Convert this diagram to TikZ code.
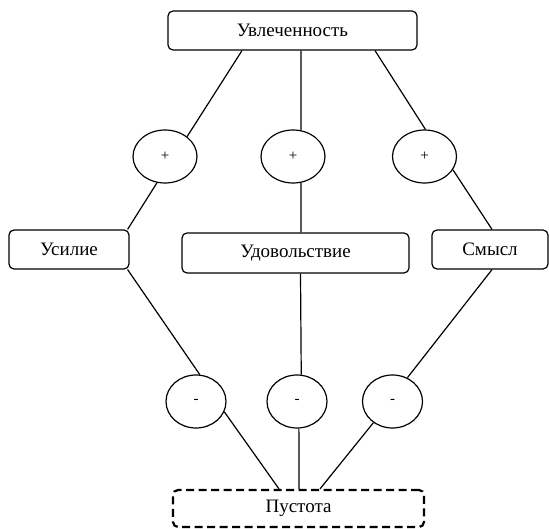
\documentclass[tikz,border=0pt]{standalone}
\usepackage{fontspec}
\setmainfont{Liberation Serif}
\usetikzlibrary{shapes.geometric}
\begin{document}
\begin{tikzpicture}[x=1pt, y=-1pt, line width=1.2pt, font=\fontsize{19}{21}\selectfont,
        box/.style={draw, rounded corners=5pt, minimum height=39pt, inner sep=0pt},
        sign/.style={draw, ellipse, minimum width=64pt, minimum height=53pt, inner sep=0pt, font=\fontsize{15}{17}\selectfont},
        dashbox/.style={box, line width=2.2pt, dash pattern=on 8pt off 4.5pt}]
        \useasboundingbox (0,0) rectangle (549,529);
        \node[box, minimum width=249pt] (top) at (292.5,30.5) {Увлеченность};
        \node[sign] (plus1) at (165,156.5) {+};
        \node[sign] (plus2) at (293,156.5) {+};
        \node[sign] (plus3) at (424.5,156.5) {+};
        \node[box, minimum width=120pt] (effort) at (69,249.5) {Усилие};
        \node[box, minimum width=227pt, minimum height=40pt] (pleasure) at (295.5,253) {Удовольствие};
        \node[box, minimum width=116pt] (sense) at (490,249.5) {Смысл};
        \node[sign, minimum width=60pt] (minus1) at (196,401.5) {-};
        \node[sign, minimum width=60pt] (minus2) at (297,401.5) {-};
        \node[sign, minimum width=60pt] (minus3) at (392.5,401.5) {-};
        \node[dashbox, minimum width=251pt, minimum height=37pt] (void) at (298.5,508.5) {Пустота};
        % upper half
        \draw ([xshift=-50.5pt]top.south) -- (plus1.42);
        \draw ([xshift=8.5pt]top.south) -- (plus2.73);
        \draw ([xshift=82.5pt]top.south) -- (plus3.88);
        \draw (plus1.253) -- ([xshift=-2pt]effort.north east);
        \draw (plus2.-73) -- ([xshift=5.5pt]pleasure.north);
        \draw (plus3.-25) -- ([xshift=2pt]sense.north);
        % lower half
        \draw ([xshift=-2pt]effort.south east) -- (minus1.82);
        \draw ([xshift=5pt]pleasure.south) -- (minus2.81);
        \draw ([xshift=2pt]sense.south) -- (minus3.58);
        \draw (minus1.-20) -- ([xshift=-19.5pt]void.north);
        \draw (minus2.-86) -- ([xshift=0.5pt]void.north);
        \draw (minus3.-132) -- ([xshift=21.5pt]void.north);
\end{tikzpicture}
\end{document}
